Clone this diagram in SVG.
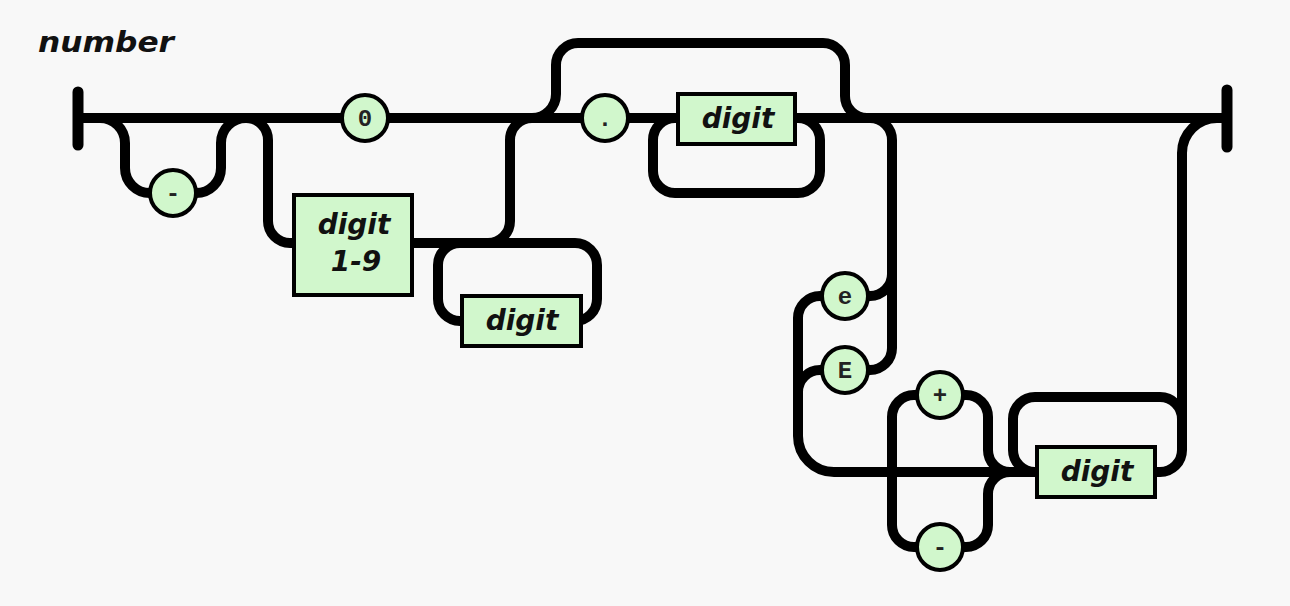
<svg xmlns="http://www.w3.org/2000/svg" width="1290" height="606" viewBox="0 0 1290 606">
<style>
.bg{fill:#f8f8f8}
.rail{fill:none;stroke:#000;stroke-width:10;stroke-linecap:round;stroke-linejoin:round}
.term{fill:none;stroke:#000;stroke-width:11;stroke-linecap:round}
.box{fill:#d1f7cc;stroke:#000;stroke-width:4}
.circ{fill:#d1f7cc;stroke:#000;stroke-width:4}
.bt{font-family:"DejaVu Sans",Verdana,sans-serif;font-weight:bold;font-style:italic;font-size:28px;fill:#111;text-anchor:middle}
.ct{font-family:"Liberation Mono","Courier New",monospace;font-weight:bold;font-size:24px;fill:#222;text-anchor:middle}
.title{font-family:"DejaVu Sans",Verdana,sans-serif;font-weight:bold;font-style:italic;font-size:28px;fill:#111}
</style>
<rect class="bg" x="0" y="0" width="1290" height="606"/>
<text class="title" x="38" y="52" textLength="136" lengthAdjust="spacingAndGlyphs">number</text>
<g id="connectors">
<path class="term" d="M78 92 V145"/>
<path class="term" d="M1227 90 V147"/>
<path class="rail" d="M78 118 H1227"/>
<path class="rail" d="M100 118 A25 25 0 0 1 125 143 V168 A25 25 0 0 0 150 193 H196 A25 25 0 0 0 221 168 V143 A25 25 0 0 1 246 118"/>
<path class="rail" d="M246 118 A22 22 0 0 1 268 140 V221 A22 22 0 0 0 290 243 H488 A22 22 0 0 0 510 221 V140 A22 22 0 0 1 532 118"/>
<path class="rail" d="M460 321 A22 22 0 0 1 438 299 V265 A22 22 0 0 1 460 243 H575 A22 22 0 0 1 597 265 V299 A22 22 0 0 1 575 321 H460"/>
<path class="rail" d="M532 118 A24 24 0 0 0 556 94 V65 A22 22 0 0 1 578 43 H823 A22 22 0 0 1 845 65 V96 A22 22 0 0 0 867 118"/>
<path class="rail" d="M798 118 A22 22 0 0 1 820 140 V171 A22 22 0 0 1 798 193 H675 A22 22 0 0 1 653 171 V140 A22 22 0 0 1 675 118"/>
<path class="rail" d="M870 118 A22 22 0 0 1 892 140 V348 A22 22 0 0 1 870 370 H845"/>
<path class="rail" d="M892 274 A22 22 0 0 1 870 296 H845"/>
<path class="rail" d="M845 296 H820 A22 22 0 0 0 798 318 V436 A36 36 0 0 0 834 472 H1037"/>
<path class="rail" d="M845 370 H820 A22 22 0 0 0 798 392"/>
<path class="rail" d="M940 395 H914 A22 22 0 0 0 892 417 V525 A22 22 0 0 0 914 547 H940"/>
<path class="rail" d="M940 395 H966 A22 22 0 0 1 988 417 V450 A22 22 0 0 0 1010 472"/>
<path class="rail" d="M940 547 H966 A22 22 0 0 0 988 525 V494 A22 22 0 0 1 1010 472"/>
<path class="rail" d="M1035 472 A22 22 0 0 1 1013 450 V419 A22 22 0 0 1 1035 397 H1160 A22 22 0 0 1 1182 419"/>
<path class="rail" d="M1155 472 H1160 A22 22 0 0 0 1182 450 V153 A35 35 0 0 1 1217 118 H1227"/>
</g>
<g id="node-minus1"><circle class="circ" cx="173" cy="193" r="23"/><text class="ct" x="173" y="201">-</text></g>
<g id="node-zero"><circle class="circ" cx="365" cy="118" r="23"/><text class="ct" x="365" y="126">0</text></g>
<g id="node-digit19"><rect class="box" x="294" y="195" width="118" height="100"/><text class="bt" x="354" y="234">digit</text><text class="bt" x="356" y="271">1-9</text></g>
<g id="node-digit-a"><rect class="box" x="462" y="296" width="119" height="50"/><text class="bt" x="522" y="330">digit</text></g>
<g id="node-dot"><circle class="circ" cx="605" cy="118" r="23"/><text class="ct" x="605" y="126">.</text></g>
<g id="node-digit-b"><rect class="box" x="678" y="94" width="117" height="50"/><text class="bt" x="738" y="128">digit</text></g>
<g id="node-e"><circle class="circ" cx="845" cy="296" r="23"/><text class="ct" x="845" y="304">e</text></g>
<g id="node-E"><circle class="circ" cx="845" cy="370" r="23"/><text class="ct" x="845" y="378">E</text></g>
<g id="node-plus"><circle class="circ" cx="940" cy="395" r="23"/><text class="ct" x="940" y="403">+</text></g>
<g id="node-minus2"><circle class="circ" cx="940" cy="547" r="23"/><text class="ct" x="940" y="555">-</text></g>
<g id="node-digit-c"><rect class="box" x="1037" y="447" width="118" height="50"/><text class="bt" x="1097" y="481">digit</text></g>
</svg>
